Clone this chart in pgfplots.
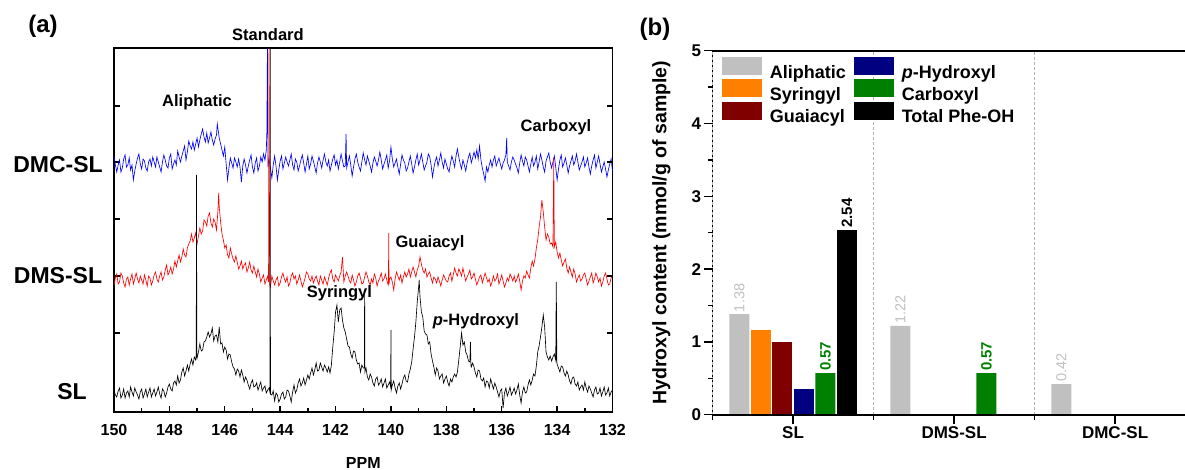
\documentclass[border=0pt]{standalone}
\usepackage{fontspec}
\setmainfont{Liberation Sans}
\usepackage{pgfplots}
\pgfplotsset{compat=1.18}
\definecolor{cgray}{RGB}{192,192,192}
\definecolor{corange}{RGB}{255,128,0}
\definecolor{cdred}{RGB}{128,0,0}
\definecolor{cnavy}{RGB}{0,0,128}
\definecolor{cgreen}{RGB}{0,128,0}
\definecolor{cblue}{RGB}{0,0,255}
\definecolor{cred}{RGB}{255,0,0}
\pgfplotsset{
  mybar/.style={ybar, bar shift=0pt, bar width=0.124, draw=none,
    legend image code/.code={\fill[##1] (0pt,-2.6pt) rectangle (40pt,15.4pt);}},
  vallab/.style={nodes near coords={\pgfmathprintnumber[fixed,fixed zerofill,precision=2]{\pgfplotspointmeta}},
    nodes near coords style={rotate=90, anchor=west, inner sep=2pt, draw=none, #1}},
}
\begin{document}
\begin{tikzpicture}
\path[use as bounding box] (0,0) rectangle (1185pt,470pt);
% ---------------- panel (a) ----------------
\begin{axis}[
  at={(114pt,58pt)}, anchor=south west, scale only axis, width=498.5pt, height=364pt,
  xmin=132, xmax=150, x dir=reverse, ymin=0, ymax=364,
  xtick={132,134,...,150}, minor x tick num=1,
  ytick={79,136,193,250,306}, yticklabels={},
  xtick pos=left, ytick pos=both, tick align=inside,
  major tick length=6pt, minor tick length=3.5pt,
  axis line style={line width=1.7pt},
  every tick/.style={black, line width=1.4pt},
  /pgf/number format/assume math mode=true,
  ticklabel style={font=\bfseries\fontsize{16}{19}\selectfont},
  xticklabel style={yshift=-9pt},
  xlabel={PPM},
  xlabel style={at={(axis description cs:0.5,-0.14)}, anchor=center, font=\bfseries\fontsize{16}{19}\selectfont},
  clip=false,
]
\addplot[cblue, line width=0.65pt, mark=none] coordinates {
(150,256)(149.95,247)(149.9,240)(149.85,247)(149.8,252)(149.75,240)(149.7,244)(149.65,253)(149.6,257)(149.55,245)(149.5,247)(149.45,254)(149.4,242)(149.35,247)(149.3,232)(149.25,241)(149.2,248)(149.15,254)(149.1,258)(149.05,248)(149,243)(148.95,253)(148.9,251)(148.85,244)(148.8,241)(148.75,250)(148.7,253)(148.65,246)(148.6,255)(148.55,250)(148.5,245)(148.45,255)(148.4,250)(148.35,245)(148.3,240)(148.25,250)(148.2,257)(148.15,252)(148.1,246)(148.05,244)(148,254)(147.95,258)(147.9,243)(147.85,248)(147.8,252)(147.75,247)(147.7,261)(147.65,255)(147.6,250)(147.55,256)(147.5,261)(147.45,266)(147.4,252)(147.35,260)(147.3,271)(147.25,266)(147.2,263)(147.15,270)(147.1,262)(147.05,268)(147,274)(146.95,265)(146.9,272)(146.85,278)(146.8,283)(146.75,275)(146.7,270)(146.65,279)(146.6,269)(146.55,274)(146.5,280)(146.45,272)(146.4,267)(146.35,273)(146.3,277)(146.27,288)(146.2,274)(146.15,268)(146.1,262)(146.05,256)(146,265)(145.95,248)(145.9,232)(145.85,244)(145.8,254)(145.75,249)(145.7,244)(145.65,254)(145.6,250)(145.55,245)(145.5,253)(145.45,245)(145.4,230)(145.35,246)(145.3,253)(145.25,247)(145.2,239)(145.15,246)(145.1,252)(145.05,257)(145,245)(144.95,239)(144.9,249)(144.85,254)(144.8,241)(144.75,246)(144.7,255)(144.65,250)(144.6,258)(144.55,252)(144.5,262)(144.48,280)(144.46,364)(144.44,245)(144.4,252)(144.35,244)(144.3,234)(144.25,247)(144.2,256)(144.15,246)(144.1,232)(144.05,242)(144,251)(143.95,256)(143.9,243)(143.85,249)(143.8,255)(143.75,250)(143.7,246)(143.65,252)(143.6,258)(143.55,247)(143.5,242)(143.45,253)(143.4,250)(143.35,241)(143.3,246)(143.25,252)(143.2,257)(143.15,249)(143.1,240)(143.05,248)(143,256)(142.95,243)(142.9,248)(142.85,256)(142.8,251)(142.75,245)(142.7,239)(142.65,249)(142.6,255)(142.55,250)(142.5,244)(142.45,252)(142.4,258)(142.35,250)(142.3,246)(142.25,252)(142.2,241)(142.15,247)(142.1,253)(142.05,257)(142,247)(141.95,252)(141.9,243)(141.85,250)(141.8,258)(141.75,251)(141.7,245)(141.65,246)(141.62,278)(141.6,244)(141.55,250)(141.5,256)(141.45,247)(141.4,236)(141.35,245)(141.3,253)(141.25,258)(141.2,250)(141.15,245)(141.1,241)(141.05,250)(141,259)(140.95,252)(140.9,247)(140.85,256)(140.8,251)(140.75,246)(140.7,240)(140.65,249)(140.6,255)(140.55,251)(140.5,246)(140.45,252)(140.4,260)(140.35,252)(140.3,243)(140.25,248)(140.2,252)(140.15,257)(140.1,244)(140.05,251)(140,265)(139.95,253)(139.9,245)(139.85,249)(139.8,253)(139.75,245)(139.7,238)(139.65,248)(139.6,257)(139.55,252)(139.5,249)(139.45,241)(139.4,244)(139.35,250)(139.3,256)(139.25,248)(139.2,239)(139.15,245)(139.1,252)(139.05,258)(139,247)(138.95,252)(138.9,258)(138.85,250)(138.8,242)(138.75,246)(138.7,250)(138.65,258)(138.6,255)(138.55,247)(138.5,235)(138.45,244)(138.4,251)(138.35,255)(138.3,246)(138.25,252)(138.2,259)(138.15,250)(138.1,244)(138.05,253)(138,248)(137.95,243)(137.9,240)(137.85,249)(137.8,256)(137.75,251)(137.7,245)(137.65,256)(137.6,263)(137.55,255)(137.5,248)(137.45,243)(137.4,252)(137.35,247)(137.3,241)(137.25,249)(137.2,255)(137.15,259)(137.1,249)(137.05,254)(137,260)(136.95,254)(136.9,262)(136.85,253)(136.8,266)(136.75,252)(136.7,244)(136.65,238)(136.6,231)(136.55,245)(136.5,240)(136.45,247)(136.4,252)(136.35,245)(136.3,252)(136.25,256)(136.2,246)(136.15,250)(136.1,254)(136.05,248)(136,243)(135.95,249)(135.9,252)(135.85,257)(135.82,274)(135.8,250)(135.75,246)(135.7,242)(135.65,250)(135.6,255)(135.55,252)(135.5,248)(135.45,244)(135.4,239)(135.35,249)(135.3,257)(135.25,251)(135.2,246)(135.15,255)(135.1,252)(135.05,246)(135,240)(134.95,248)(134.9,255)(134.85,246)(134.8,250)(134.75,256)(134.7,243)(134.65,250)(134.6,258)(134.55,252)(134.5,245)(134.45,240)(134.4,251)(134.35,255)(134.3,259)(134.25,250)(134.2,244)(134.15,250)(134.1,256)(134.05,245)(134,232)(133.95,243)(133.9,252)(133.85,257)(133.8,245)(133.75,249)(133.7,254)(133.65,247)(133.6,239)(133.55,246)(133.5,251)(133.45,256)(133.4,247)(133.35,251)(133.3,258)(133.25,250)(133.2,242)(133.15,246)(133.1,250)(133.05,255)(133,245)(132.95,249)(132.9,254)(132.85,245)(132.8,238)(132.75,246)(132.7,252)(132.65,257)(132.6,244)(132.55,250)(132.5,256)(132.45,248)(132.4,240)(132.35,245)(132.3,250)(132.25,243)(132.2,235)(132.15,242)(132.1,248)(132.05,253)(132,241)
};
\addplot[cred, line width=0.65pt, mark=none] coordinates {
(150,127)(149.95,134)(149.9,138)(149.85,128)(149.8,130)(149.75,139)(149.7,136)(149.65,129)(149.6,125)(149.55,133)(149.5,135)(149.45,127)(149.4,133)(149.35,138)(149.3,128)(149.25,133)(149.2,139)(149.15,133)(149.1,129)(149.05,136)(149,132)(148.95,128)(148.9,137)(148.85,132)(148.8,126)(148.75,136)(148.7,134)(148.65,127)(148.6,131)(148.55,137)(148.5,140)(148.45,133)(148.4,130)(148.35,136)(148.3,140)(148.25,132)(148.2,135)(148.15,142)(148.1,147)(148.05,137)(148,140)(147.95,145)(147.9,138)(147.85,143)(147.8,151)(147.75,145)(147.7,151)(147.65,157)(147.6,150)(147.55,155)(147.5,163)(147.45,157)(147.4,155)(147.35,164)(147.3,168)(147.25,171)(147.2,178)(147.15,170)(147.1,174)(147.05,179)(147,168)(146.95,176)(146.9,184)(146.85,178)(146.8,181)(146.75,192)(146.7,190)(146.65,186)(146.6,196)(146.55,199)(146.5,189)(146.45,185)(146.4,193)(146.35,190)(146.3,182)(146.25,200)(146.22,219)(146.2,205)(146.15,190)(146.1,178)(146.05,172)(146,164)(145.95,167)(145.9,157)(145.85,154)(145.8,164)(145.75,158)(145.7,153)(145.65,150)(145.6,156)(145.55,150)(145.5,143)(145.45,146)(145.4,151)(145.35,143)(145.3,147)(145.25,149)(145.2,140)(145.15,144)(145.1,150)(145.05,142)(145,139)(144.95,146)(144.9,140)(144.85,135)(144.8,143)(144.75,138)(144.7,130)(144.65,134)(144.6,137)(144.55,128)(144.5,132)(144.45,136)(144.42,130)(144.4,364)(144.38,128)(144.35,125)(144.3,136)(144.25,131)(144.2,127)(144.15,132)(144.1,135)(144.05,126)(144,129)(143.95,135)(143.9,139)(143.85,133)(143.8,130)(143.75,135)(143.7,126)(143.65,129)(143.6,136)(143.55,139)(143.5,133)(143.45,136)(143.4,128)(143.35,132)(143.3,137)(143.25,131)(143.2,125)(143.15,129)(143.1,134)(143.05,140)(143,138)(142.95,133)(142.9,131)(142.85,136)(142.8,129)(142.75,133)(142.7,136)(142.65,131)(142.6,127)(142.55,136)(142.5,132)(142.45,128)(142.4,135)(142.35,131)(142.3,127)(142.25,134)(142.2,139)(142.15,142)(142.1,133)(142.05,130)(142,137)(141.95,134)(141.9,131)(141.85,136)(141.8,140)(141.75,155)(141.7,130)(141.65,136)(141.6,140)(141.55,136)(141.5,131)(141.45,129)(141.4,137)(141.35,132)(141.3,126)(141.25,130)(141.2,136)(141.15,139)(141.1,134)(141.05,128)(141,129)(140.95,135)(140.9,140)(140.85,136)(140.8,130)(140.75,127)(140.7,133)(140.65,129)(140.6,138)(140.55,134)(140.5,126)(140.45,131)(140.4,134)(140.35,139)(140.3,131)(140.25,133)(140.2,138)(140.15,132)(140.1,127)(140.09,130)(140.08,179)(140.07,128)(140.05,133)(140,135)(139.95,130)(139.9,122)(139.85,133)(139.8,140)(139.75,136)(139.7,132)(139.65,137)(139.6,129)(139.55,135)(139.5,140)(139.45,135)(139.4,138)(139.35,143)(139.3,135)(139.25,140)(139.2,145)(139.15,140)(139.1,135)(139.05,142)(139,146)(138.95,155)(138.9,148)(138.85,142)(138.8,139)(138.75,143)(138.7,135)(138.65,138)(138.6,140)(138.55,134)(138.5,129)(138.45,135)(138.4,133)(138.35,129)(138.3,135)(138.25,131)(138.2,126)(138.15,132)(138.1,137)(138.05,134)(138,131)(137.95,130)(137.9,136)(137.85,139)(137.8,131)(137.75,137)(137.7,144)(137.65,139)(137.6,136)(137.55,143)(137.5,140)(137.45,136)(137.4,144)(137.35,137)(137.3,131)(137.25,135)(137.2,138)(137.15,142)(137.1,133)(137.05,135)(137,139)(136.95,133)(136.9,127)(136.85,131)(136.8,135)(136.75,137)(136.7,129)(136.65,134)(136.6,139)(136.55,134)(136.5,130)(136.45,133)(136.4,126)(136.35,130)(136.3,136)(136.25,131)(136.2,133)(136.15,138)(136.1,128)(136.05,132)(136,137)(135.95,131)(135.9,125)(135.85,129)(135.8,134)(135.75,131)(135.7,138)(135.65,135)(135.6,131)(135.55,136)(135.5,130)(135.45,133)(135.4,138)(135.35,131)(135.3,122)(135.25,131)(135.2,136)(135.15,134)(135.1,141)(135.05,137)(135,134)(134.95,144)(134.9,151)(134.85,146)(134.8,153)(134.75,164)(134.7,172)(134.65,185)(134.6,195)(134.55,212)(134.5,200)(134.45,185)(134.4,172)(134.35,178)(134.3,175)(134.25,168)(134.2,169)(134.15,165)(134.12,254)(134.1,165)(134.05,170)(134,160)(133.95,154)(133.9,159)(133.85,152)(133.8,146)(133.75,150)(133.7,153)(133.65,144)(133.6,139)(133.55,145)(133.5,140)(133.45,135)(133.4,143)(133.35,138)(133.3,130)(133.25,134)(133.2,137)(133.15,131)(133.1,133)(133.05,137)(133,139)(132.95,133)(132.9,127)(132.85,131)(132.8,135)(132.75,139)(132.7,129)(132.65,133)(132.6,139)(132.55,135)(132.5,130)(132.45,134)(132.4,126)(132.35,130)(132.3,136)(132.25,139)(132.2,133)(132.15,127)(132.1,128)(132.05,134)(132,137)
};
\addplot[black, line width=0.65pt, mark=none] coordinates {
(150,22)(149.95,17)(149.9,15)(149.85,21)(149.8,24)(149.75,14)(149.7,17)(149.65,23)(149.6,14)(149.55,19)(149.5,21)(149.45,15)(149.4,25)(149.35,20)(149.3,16)(149.25,24)(149.2,20)(149.15,17)(149.1,13)(149.05,20)(149,23)(148.95,14)(148.9,18)(148.85,23)(148.8,15)(148.75,20)(148.7,24)(148.65,15)(148.6,19)(148.55,23)(148.5,16)(148.45,20)(148.4,25)(148.35,18)(148.3,14)(148.25,23)(148.2,21)(148.15,15)(148.1,19)(148.05,25)(148,28)(147.95,23)(147.9,21)(147.85,29)(147.8,31)(147.75,27)(147.7,36)(147.65,29)(147.6,32)(147.55,40)(147.5,44)(147.45,36)(147.4,41)(147.35,47)(147.3,41)(147.25,48)(147.2,53)(147.15,47)(147.1,55)(147.05,52)(147.03,57)(147.02,237)(147.01,58)(147,54)(146.95,60)(146.9,68)(146.85,61)(146.8,62)(146.75,70)(146.7,71)(146.65,75)(146.6,80)(146.55,75)(146.5,78)(146.45,84)(146.4,71)(146.35,76)(146.3,77)(146.25,70)(146.2,85)(146.15,68)(146.1,69)(146.05,60)(146,65)(145.95,62)(145.9,53)(145.85,58)(145.8,57)(145.75,50)(145.7,45)(145.65,43)(145.6,37)(145.55,43)(145.5,41)(145.45,35)(145.4,42)(145.35,37)(145.3,30)(145.25,35)(145.2,32)(145.15,27)(145.1,23)(145.05,29)(145,32)(144.95,25)(144.9,26)(144.85,29)(144.8,22)(144.75,26)(144.7,30)(144.65,21)(144.6,24)(144.55,26)(144.5,19)(144.45,22)(144.4,24)(144.37,20)(144.36,364)(144.35,18)(144.3,17)(144.25,21)(144.2,11)(144.15,19)(144.1,17)(144.05,10)(144,13)(143.95,18)(143.9,20)(143.85,13)(143.8,15)(143.75,22)(143.7,21)(143.65,16)(143.6,10)(143.55,20)(143.5,27)(143.45,19)(143.4,22)(143.35,29)(143.3,33)(143.25,26)(143.2,29)(143.15,34)(143.1,27)(143.05,32)(143,37)(142.95,33)(142.9,39)(142.85,44)(142.8,37)(142.75,42)(142.7,49)(142.65,41)(142.6,42)(142.55,49)(142.5,45)(142.45,41)(142.4,47)(142.35,44)(142.3,40)(142.25,45)(142.2,39)(142.15,47)(142.1,65)(142.05,80)(142,100)(141.95,107)(141.9,90)(141.85,102)(141.8,104)(141.75,92)(141.7,84)(141.65,80)(141.6,73)(141.55,66)(141.5,65)(141.45,58)(141.4,54)(141.35,61)(141.3,60)(141.25,52)(141.2,48)(141.15,49)(141.1,40)(141.05,47)(141,44)(140.96,44)(140.95,122)(140.94,40)(140.9,44)(140.85,35)(140.8,32)(140.75,38)(140.7,35)(140.65,29)(140.6,26)(140.55,33)(140.5,35)(140.45,27)(140.4,29)(140.35,33)(140.3,25)(140.25,29)(140.2,33)(140.15,24)(140.1,27)(140.05,30)(140.01,25)(140,82)(139.99,22)(139.95,27)(139.9,31)(139.85,24)(139.8,19)(139.75,26)(139.7,29)(139.65,23)(139.6,28)(139.55,34)(139.5,37)(139.45,31)(139.4,30)(139.35,38)(139.3,43)(139.25,50)(139.2,63)(139.15,75)(139.1,90)(139.05,110)(139,125)(138.98,132)(138.95,115)(138.9,100)(138.85,95)(138.8,81)(138.75,78)(138.7,77)(138.65,68)(138.6,70)(138.55,58)(138.5,51)(138.45,45)(138.4,37)(138.35,44)(138.3,41)(138.25,33)(138.2,36)(138.15,38)(138.1,29)(138.05,33)(138,36)(137.95,30)(137.9,26)(137.85,33)(137.8,30)(137.75,35)(137.7,38)(137.65,35)(137.6,40)(137.55,52)(137.5,65)(137.45,79)(137.4,67)(137.35,70)(137.3,60)(137.25,57)(137.2,51)(137.15,50)(137.13,70)(137.11,46)(137.1,45)(137.05,49)(137,45)(136.95,39)(136.9,35)(136.85,42)(136.8,41)(136.75,33)(136.7,31)(136.65,34)(136.6,25)(136.55,31)(136.5,30)(136.45,24)(136.4,33)(136.35,28)(136.3,23)(136.25,29)(136.2,25)(136.15,20)(136.1,15)(136.05,21)(136,23)(135.95,4)(135.9,19)(135.85,24)(135.8,16)(135.75,20)(135.7,25)(135.65,17)(135.6,20)(135.55,24)(135.5,18)(135.45,22)(135.4,28)(135.35,17)(135.3,9)(135.25,20)(135.2,25)(135.15,19)(135.1,20)(135.05,27)(135,32)(134.95,27)(134.9,32)(134.85,38)(134.8,36)(134.75,46)(134.7,60)(134.65,66)(134.6,75)(134.55,85)(134.5,97)(134.45,85)(134.4,60)(134.35,55)(134.3,52)(134.25,56)(134.2,51)(134.15,55)(134.1,58)(134.05,52)(134.03,130)(134.01,50)(134,48)(133.95,44)(133.9,40)(133.85,46)(133.8,45)(133.75,39)(133.7,36)(133.65,41)(133.6,37)(133.55,31)(133.5,28)(133.45,34)(133.4,35)(133.35,28)(133.3,26)(133.25,30)(133.2,22)(133.15,25)(133.1,27)(133.05,22)(133,30)(132.95,24)(132.9,20)(132.85,26)(132.8,23)(132.75,19)(132.7,15)(132.65,22)(132.6,25)(132.55,18)(132.5,19)(132.45,24)(132.4,16)(132.35,20)(132.3,25)(132.25,17)(132.2,19)(132.15,24)(132.1,16)(132.05,20)(132,22)
};
\begin{scope}[font=\bfseries\fontsize{16.5}{19}\selectfont]
\node at (axis cs:147.0,310) {Aliphatic};
\node at (axis cs:134.04,285) {Carboxyl};
\node at (axis cs:138.59,169) {Guaiacyl};
\node at (axis cs:141.86,119) {Syringyl};
\node at (axis cs:136.93,91) {\textit{p}-Hydroxyl};
\node at (axis cs:144.44,377) {Standard};
\end{scope}
\end{axis}
% right-hand inner ticks of panel (a)
\foreach \y in {137,194,251,308,364} {\fill (606.5pt,\y pt-0.7pt) rectangle (612.5pt,\y pt+0.7pt);}
\node[font=\bfseries\fontsize{24}{28}\selectfont] at (43pt,444pt) {(a)};
\node[font=\bfseries\fontsize{23}{27}\selectfont] at (58pt,305pt) {DMC-SL};
\node[font=\bfseries\fontsize{23}{27}\selectfont] at (58pt,194pt) {DMS-SL};
\node[font=\bfseries\fontsize{23}{27}\selectfont] at (72pt,78pt) {SL};
% ---------------- panel (b) ----------------
\begin{axis}[
  at={(712.6pt,55.3pt)}, anchor=south west, scale only axis, width=483pt, height=364pt,
  xmin=-0.5, xmax=2.5, ymin=0, ymax=5,
  axis on top,
  xtick={0,1,2}, xticklabels={SL,DMS-SL,DMC-SL},
  extra x ticks={-0.5,0.5,1.5}, extra x tick labels={},
  extra x tick style={grid=major, major grid style={densely dashed, gray!60, line width=0.5pt}, major tick length=5pt},
  ytick={0,1,2,3,4,5}, minor y tick num=1,
  xtick pos=left, ytick pos=left, tick align=outside,
  major tick length=8pt, minor tick length=4pt,
  axis line style={line width=1.7pt},
  every tick/.style={black, line width=1.4pt},
  /pgf/number format/assume math mode=true,
  ticklabel style={font=\bfseries\fontsize{17}{20}\selectfont},
  ylabel={Hydroxyl content (mmol/g of sample)},
  ylabel style={at={(axis description cs:-0.106,0.5)}, anchor=center, font=\bfseries\fontsize{19.5}{22}\selectfont},
  legend columns=3, transpose legend,
  legend style={at={(axis description cs:0,1)}, anchor=north west, xshift=6pt, yshift=-4pt,
    draw=none, fill=none, font=\bfseries\fontsize{18}{20}\selectfont,
    nodes={inner sep=1pt}, column sep=7pt, row sep=-1.3pt},
  legend cell align=left,
  clip=false,
]
\addplot[mybar, fill=cgray, vallab={text=cgray, font=\fontsize{14.5}{16}\selectfont}] coordinates {(-0.3338,1.38) (0.6662,1.22) (1.6662,0.42)};
\addlegendentry{Aliphatic}
\addplot[mybar, fill=corange] coordinates {(-0.2003,1.16)};
\addlegendentry{Syringyl}
\addplot[mybar, fill=cdred] coordinates {(-0.0668,1.00)};
\addlegendentry{Guaiacyl}
\addplot[mybar, fill=cnavy] coordinates {(0.0668,0.35)};
\addlegendentry{\textit{p}-Hydroxyl}
\addplot[mybar, fill=cgreen, vallab={text=cgreen, font=\bfseries\fontsize{15}{17}\selectfont}] coordinates {(0.2003,0.57) (1.2003,0.57)};
\addlegendentry{Carboxyl}
\addplot[mybar, fill=black, vallab={text=black, font=\bfseries\fontsize{15}{17}\selectfont}] coordinates {(0.3338,2.54)};
\addlegendentry{Total Phe-OH}
\end{axis}
% frame line and tick marks of panel (b), as filled strips
\fill (711.75pt,54.3pt) rectangle (1185pt,56.3pt);
\foreach \x in {793.1,954.1,1115.1} {\fill (\x pt-0.75pt,46.3pt) rectangle (\x pt+0.75pt,55.3pt);}
\foreach \x in {712.6,873.6,1034.6} {\fill (\x pt-0.75pt,49.8pt) rectangle (\x pt+0.75pt,55.3pt);}
\foreach \y in {55.3,128.1,200.9,273.7,346.5,419.3} {\fill (704.1pt,\y pt-0.75pt) rectangle (712.6pt,\y pt+0.75pt);}
\foreach \y in {91.7,164.5,237.3,310.1,382.9} {\fill (708.1pt,\y pt-0.75pt) rectangle (712.6pt,\y pt+0.75pt);}
\node[font=\bfseries\fontsize{24}{28}\selectfont] at (655pt,441pt) {(b)};
\end{tikzpicture}
\end{document}
